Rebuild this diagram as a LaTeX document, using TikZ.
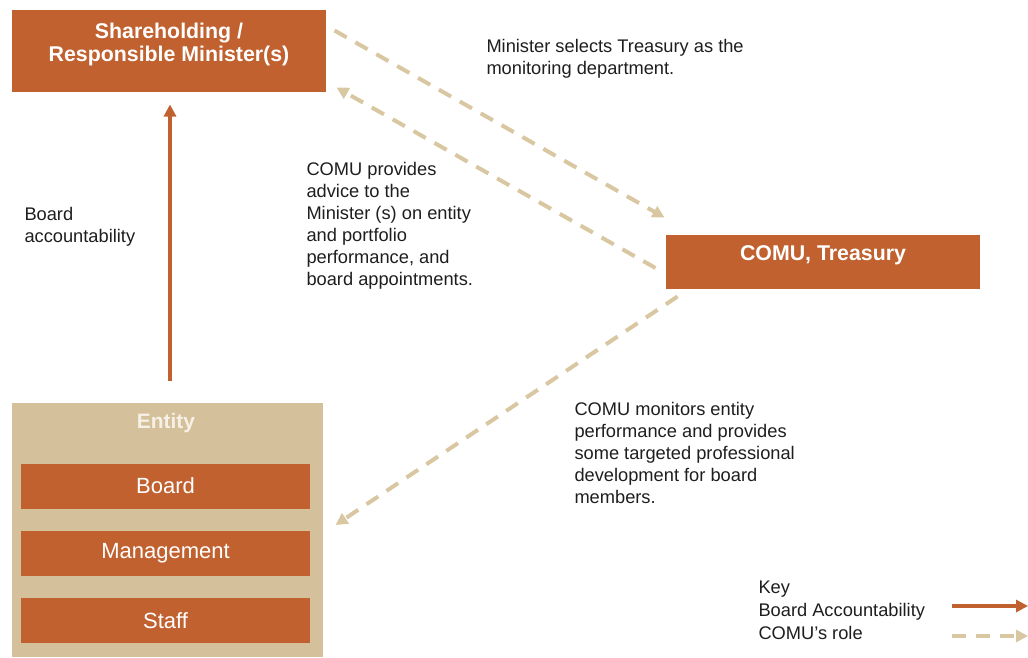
\documentclass[tikz,border=0pt]{standalone}
\usepackage{fontspec}
\setmainfont{Liberation Sans}
\usetikzlibrary{arrows.meta}

\definecolor{rust}{HTML}{C0612F}
\definecolor{sand}{HTML}{D4C09A}
\definecolor{sandline}{HTML}{D9C7A2}
\definecolor{ink}{HTML}{1E1E1E}
\definecolor{paletext}{HTML}{F6F0E6}

\tikzset{every picture/.style={line width=0.75pt}}
\tikzset{
	rustbox/.style={fill=rust, draw=none, inner sep=0pt, text=white, align=center},
	boxtitle/.style={inner sep=0pt, text=white, align=center, font=\fontsize{16}{17.5}\selectfont\bfseries},
	layer/.style={rustbox, minimum width=216.75pt, minimum height=33.75pt, font=\fontsize{16.5}{18}\selectfont},
	note/.style={anchor=north west, inner sep=0pt, align=left, text=ink, font=\fontsize{13.7}{16.5}\selectfont},
	accline/.style={draw=rust, line width=3pt, -{Triangle[length=9pt,width=9pt]}},
	comuline/.style={draw=sandline, line width=3pt, dash pattern=on 10.5pt off 7.5pt, -{Triangle[length=9pt,width=9pt]}},
}

\begin{document}
\begin{tikzpicture}[x=0.75pt,y=0.75pt,yscale=-1,xscale=1]
			\useasboundingbox (0,0) rectangle (1028,657);

			%Shape: Rectangle [minister]
			\node [rustbox, minimum width=235.5pt, minimum height=61.5pt] (sh) at (169,51) {};
			\node [boxtitle] (sh-title) at (169,44.5) {Shareholding /\\Responsible Minister(s)};

			%Shape: Rectangle [treasury]
			\node [rustbox, minimum width=235.5pt, minimum height=40.5pt] (comu) at (823,262) {};
			\node [boxtitle] (comu-title) at (823,255) {COMU, Treasury};

			%Shape: Rectangle [entity]
			\node [fill=sand, draw=none, inner sep=0pt, minimum width=233.25pt, minimum height=190.5pt] (entity) at (167.5,530) {};
			\node [boxtitle, text=paletext, font=\fontsize{15.7}{17}\selectfont\bfseries] (entity-title) at (166,423) {Entity};
			\node [layer] (board) at (165.5,486) {Board};
			\node [layer] (mgmt) at (165.5,553.5) {Management};
			\node [layer] (staff) at (165.5,620.5) {Staff};

			% Board accountability
			\draw [accline] ([shift={(2.5,-22)}]entity.north) -- ([shift={(1,12)}]sh.south);

			% COMU role
			\draw [comuline] ([shift={(8,21)}]sh.north east) -- ([shift={(-1,-17)}]comu.north west);
			\draw [comuline] ([shift={(-10,6)}]comu.west) -- ([shift={(10,-5)}]sh.south east);
			\draw [comuline] ([shift={(12,7)}]comu.south west) -- ([shift={(12,-5)}]entity.east);

			% Text Node
			\node [note] (sel-note) at (486,39) {Minister selects Treasury as the\\monitoring department.};
			% Text Node
			\node [note] (adv-note) at (306,162) {COMU provides\\advice to the\\Minister (s) on entity\\and portfolio\\performance, and\\board appointments.};
			% Text Node
			\node [note] (acc-note) at (24,207) {Board\\accountability};
			% Text Node
			\node [note] (mon-note) at (574,402) {COMU monitors entity\\performance and provides\\some targeted professional\\development for board\\members.};

			% Key
			\node [note, font=\fontsize{13.7}{17.25}\selectfont] (key) at (758,580) {Key\\Board Accountability\\COMU's role};
			\coordinate (key-acc-a) at (952,606);
			\coordinate (key-acc-b) at (1028,606);
			\coordinate (key-comu-a) at (952,636);
			\coordinate (key-comu-b) at (1028,636);
			\draw [accline] (key-acc-a) -- (key-acc-b);
			\draw [comuline] (key-comu-a) -- (key-comu-b);

\end{tikzpicture}
\end{document}
